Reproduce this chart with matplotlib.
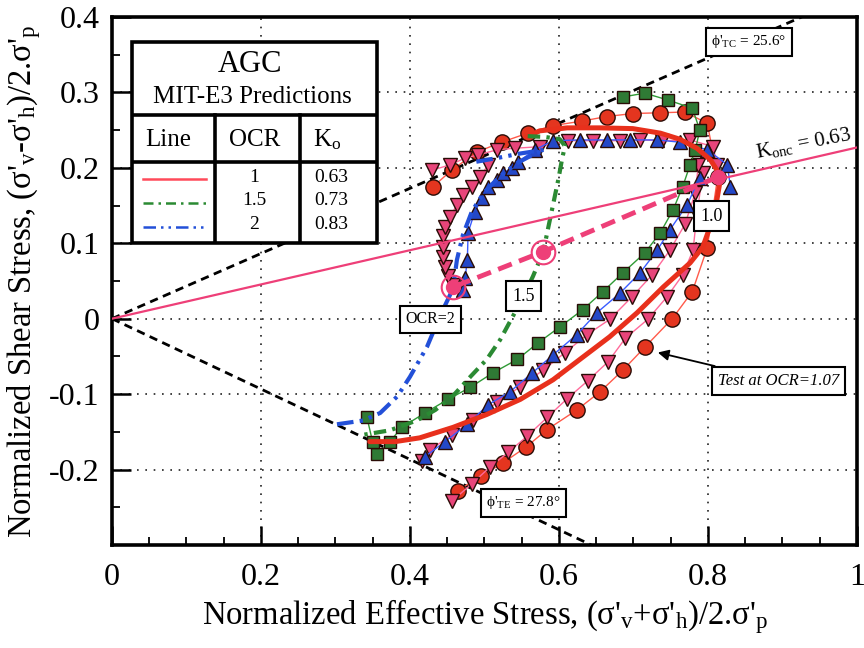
import numpy as np
import matplotlib
matplotlib.use("Agg")
import matplotlib.pyplot as plt
from matplotlib.ticker import MultipleLocator, FuncFormatter
from matplotlib.patches import Rectangle

plt.rcParams["font.family"] = ["Liberation Serif", "DejaVu Serif"]
plt.rcParams["mathtext.fontset"] = "custom"
plt.rcParams["mathtext.rm"] = "Liberation Serif"
plt.rcParams["mathtext.it"] = "Liberation Serif:italic"

# reference lines
k_onc = 0.63
phi_tc = 25.6
phi_te = 27.8

# test data (symbols)
circ_x = [0.431, 0.456, 0.490, 0.523, 0.558, 0.592, 0.631, 0.664, 0.699, 0.736, 0.769, 0.799, 0.813,
          0.799, 0.779, 0.752, 0.715, 0.686, 0.655, 0.624, 0.584, 0.556, 0.525, 0.495, 0.464]
circ_y = [0.175, 0.197, 0.221, 0.234, 0.246, 0.256, 0.262, 0.268, 0.272, 0.273, 0.274, 0.259, 0.188,
          0.094, 0.036, 0.000, -0.038, -0.068, -0.097, -0.121, -0.147, -0.170, -0.191, -0.209, -0.228]

pink_tc1_x = [0.812, 0.807, 0.776, 0.738, 0.709, 0.682, 0.646, 0.612, 0.574, 0.541, 0.517, 0.491, 0.474, 0.454, 0.430]
pink_tc1_y = [0.204, 0.228, 0.237, 0.236, 0.237, 0.236, 0.236, 0.236, 0.228, 0.226, 0.224, 0.217, 0.213, 0.204, 0.197]
pink_tc2_x = [0.458, 0.451, 0.447, 0.444, 0.444, 0.444, 0.447, 0.454, 0.463, 0.471, 0.483, 0.494, 0.505]
pink_tc2_y = [0.045, 0.056, 0.069, 0.082, 0.095, 0.109, 0.122, 0.135, 0.151, 0.164, 0.175, 0.188, 0.204]
pink_te1_x = [0.793, 0.785, 0.780, 0.766, 0.745, 0.719, 0.689, 0.666, 0.639, 0.611, 0.584, 0.557, 0.532, 0.507, 0.483, 0.456]
pink_te1_y = [0.193, 0.138, 0.091, 0.058, 0.029, -0.001, -0.026, -0.057, -0.082, -0.106, -0.131, -0.156, -0.177, -0.197, -0.219, -0.242]
pink_te2_x = [0.787, 0.783, 0.769, 0.749, 0.725, 0.698, 0.668, 0.638, 0.608, 0.579, 0.548, 0.517, 0.485, 0.456, 0.427, 0.416]
pink_te2_y = [0.204, 0.167, 0.125, 0.091, 0.058, 0.029, -0.001, -0.021, -0.045, -0.068, -0.090, -0.111, -0.134, -0.154, -0.174, -0.189]

blue_tc_x = [0.471, 0.474, 0.477, 0.478, 0.487, 0.497, 0.505, 0.517, 0.525, 0.537, 0.545, 0.568, 0.592, 0.628,
             0.664, 0.695, 0.732, 0.762, 0.799, 0.826, 0.830]
blue_tc_y = [0.038, 0.054, 0.078, 0.114, 0.142, 0.160, 0.175, 0.184, 0.193, 0.200, 0.208, 0.224, 0.236, 0.237,
             0.237, 0.237, 0.237, 0.234, 0.224, 0.204, 0.175]
blue_te_x = [0.789, 0.772, 0.749, 0.732, 0.709, 0.682, 0.651, 0.624, 0.592, 0.564, 0.534, 0.505, 0.477, 0.447, 0.420]
blue_te_y = [0.187, 0.151, 0.118, 0.091, 0.061, 0.034, 0.008, -0.021, -0.048, -0.072, -0.097, -0.114, -0.140, -0.163, -0.183]

green_x = [0.686, 0.715, 0.746, 0.779, 0.789, 0.783, 0.776, 0.766, 0.753, 0.736, 0.715, 0.686, 0.659, 0.632,
           0.601, 0.572, 0.544, 0.511, 0.481, 0.451, 0.420, 0.389, 0.373, 0.356, 0.350, 0.342]
green_y = [0.294, 0.299, 0.290, 0.279, 0.250, 0.224, 0.204, 0.175, 0.144, 0.114, 0.087, 0.061, 0.036, 0.012,
           -0.011, -0.032, -0.054, -0.072, -0.091, -0.107, -0.125, -0.144, -0.163, -0.180, -0.164, -0.130]

# MIT-E3 predictions
red_pred_x = [0.557, 0.574, 0.611, 0.655, 0.699, 0.736, 0.762, 0.785, 0.803, 0.812, 0.816, 0.812, 0.805, 0.793,
              0.776, 0.740, 0.705, 0.668, 0.628, 0.592, 0.548, 0.503, 0.458, 0.413, 0.380, 0.346]
red_pred_y = [0.241, 0.249, 0.253, 0.253, 0.252, 0.246, 0.238, 0.226, 0.211, 0.197, 0.181, 0.158, 0.128, 0.095,
              0.074, 0.042, 0.008, -0.024, -0.054, -0.081, -0.107, -0.127, -0.144, -0.158, -0.163, -0.163]
green_pred_x = [0.558, 0.581, 0.601, 0.608, 0.604, 0.599, 0.592, 0.585, 0.579, 0.565, 0.550, 0.538, 0.521,
                0.503, 0.481, 0.458, 0.434, 0.409, 0.373, 0.337]
green_pred_y = [0.242, 0.241, 0.238, 0.229, 0.211, 0.184, 0.151, 0.118, 0.089, 0.056, 0.025, 0.003, -0.028,
                -0.054, -0.077, -0.102, -0.121, -0.135, -0.148, -0.154]
blue_pred_x = [0.302, 0.337, 0.360, 0.383, 0.400, 0.423, 0.440, 0.454, 0.458, 0.463, 0.471, 0.483, 0.499,
               0.521, 0.545, 0.568, 0.581, 0.548, 0.517, 0.483]
blue_pred_y = [-0.140, -0.135, -0.125, -0.103, -0.077, -0.037, 0.003, 0.032, 0.042, 0.078, 0.111, 0.142, 0.167,
               0.189, 0.207, 0.219, 0.224, 0.219, 0.213, 0.207]

# K0 swelling path and start points (OCR = 1, 1.5, 2)
swell_x = [0.813, 0.579, 0.458]
swell_y = [0.188, 0.089, 0.042]

ocr_vals = ["1", "1.5", "2"]
k0_vals = ["0.63", "0.73", "0.83"]

RED = "#e8301c"
PINK = "#ee3f78"
BLUE = "#2350d8"
GREEN = "#2b8a33"

fig = plt.figure(figsize=(8.64, 6.48), dpi=100)
ax = fig.add_axes([0.1296, 0.1590, 0.8623, 0.8148])
ax.set_xlim(0, 1)
ax.set_ylim(-0.3, 0.4)

# strength and K0 lines
xs = np.array([0.0, 1.0])
ax.plot(xs, np.sin(np.radians(phi_tc)) * xs, color="black", lw=2, dashes=(3, 2), zorder=2)
ax.plot(xs, -np.sin(np.radians(phi_te)) * xs, color="black", lw=2, dashes=(3, 2), zorder=2)
ax.plot(xs, (1 - k_onc) / (1 + k_onc) * xs, color=PINK, lw=1.6, zorder=4.5)

# test data
mk = dict(markeredgecolor="#2a0c06", markeredgewidth=1.0, zorder=3)
ax.plot(circ_x, circ_y, "-o", color="#ff5a4a", lw=1, markerfacecolor="#e4351f", markersize=11, **mk)
for px, py in [(pink_tc1_x, pink_tc1_y), (pink_tc2_x, pink_tc2_y), (pink_te1_x, pink_te1_y), (pink_te2_x, pink_te2_y)]:
    ax.plot(px, py, "-v", color="#ff6a9a", lw=1, markerfacecolor="#e8457a", markersize=10.5, **mk)
for bx, by in [(blue_tc_x, blue_tc_y), (blue_te_x, blue_te_y)]:
    ax.plot(bx, by, "-^", color="#3a5cff", lw=1, markerfacecolor="#2448c8", markersize=10.5, **mk)
ax.plot(green_x, green_y, "-s", color="#2f9a35", lw=1, markerfacecolor="#2f7a35", markersize=9, **mk)

# predictions
ax.plot(red_pred_x, red_pred_y, color=RED, lw=3.6, zorder=4, solid_capstyle="round")
ax.plot(green_pred_x, green_pred_y, color=GREEN, lw=3, dashes=(3, 1.5, 0.8, 1.5), zorder=4)
ax.plot(blue_pred_x, blue_pred_y, color=BLUE, lw=3, dashes=(4, 1.5, 0.8, 1.5, 0.8, 1.5), zorder=4)
ax.plot(swell_x, swell_y, color=PINK, lw=3.5, dashes=(3, 1.6), zorder=4)
ax.plot(swell_x, swell_y, "o", color=PINK, markersize=10, zorder=5)
ax.plot(swell_x[1:], swell_y[1:], "o", markerfacecolor="none", markeredgecolor=PINK,
        markeredgewidth=1.5, markersize=17, zorder=5)

# grid and axes styling
ax.set_xticks([0, 0.2, 0.4, 0.6, 0.8, 1.0])
ax.set_yticks([-0.2, -0.1, 0, 0.1, 0.2, 0.3, 0.4])
ax.xaxis.set_minor_locator(MultipleLocator(0.05))
ax.yaxis.set_minor_locator(MultipleLocator(0.05))
fmt = FuncFormatter(lambda v, p: "%g" % round(v, 2))
ax.xaxis.set_major_formatter(fmt)
ax.yaxis.set_major_formatter(fmt)
ax.grid(True, which="major", linestyle=(0, (1, 4)), color="#222222", lw=1.2, zorder=0.5)
ax.tick_params(which="major", direction="in", length=14, width=1.8, labelsize=23)
ax.tick_params(which="minor", direction="in", length=6, width=1.3)
ax.tick_params(axis="x", pad=13)
ax.tick_params(axis="y", pad=9)
ax.tick_params(top=False, right=False, which="both")
for s in ax.spines.values():
    s.set_linewidth(2.6)

fig.text(485 / 864, 1 - 624 / 648,
         r"Normalized Effective Stress, (σ'$_\mathregular{v}$+σ'$_\mathregular{h}$)/2.σ'$_\mathregular{p}$",
         ha="center", va="baseline", fontsize=23.5)
fig.text(24 / 864, 1 - 281 / 648,
         r"Normalized Shear Stress, (σ'$_\mathregular{v}$-σ'$_\mathregular{h}$)/2.σ'$_\mathregular{p}$",
         rotation=90, ha="center", va="center", fontsize=23.5)

# annotation boxes
box = dict(boxstyle="square,pad=0.35", fc="white", ec="black", lw=1.5)
ax.text(0.855, 0.367, r"ϕ'$_\mathregular{TC}$ = 25.6°", ha="center", va="center", fontsize=11, bbox=box, zorder=7)
ax.text(0.552, -0.244, r"ϕ'$_\mathregular{TE}$ = 27.8°", ha="center", va="center", fontsize=11, bbox=box, zorder=7)
ax.text(0.805, 0.136, "1.0", ha="center", va="center", fontsize=13, bbox=box, zorder=7)
ax.text(0.552, 0.030, "1.5", ha="center", va="center", fontsize=13, bbox=box, zorder=7)
ax.text(0.427, -0.001, "OCR=2", ha="center", va="center", fontsize=11.5, bbox=box, zorder=7)
ax.annotate("Test at OCR=1.07", xy=(0.729, -0.044), xytext=(0.895, -0.083), ha="center", va="center",
            fontsize=12, fontstyle="italic", bbox=box, zorder=7,
            arrowprops=dict(arrowstyle="-|>", color="black", lw=1.3, mutation_scale=16))
ax.text(0.866, 0.213, r"K$_\mathregular{onc}$ = 0.63", ha="left", va="baseline", fontsize=15,
        rotation=11, rotation_mode="anchor", zorder=7)

# legend table
tab = fig.add_axes([0.1528, 0.625, 0.2836, 0.3102])
tab.set_xlim(0, 1)
tab.set_ylim(0, 1)
tab.axis("off")
tab.add_patch(Rectangle((0, 0), 1, 1, fc="white", ec="black", lw=2.6, clip_on=False))
tab.plot([0, 1], [0.637, 0.637], color="black", lw=2.6)
tab.plot([0, 1], [0.403, 0.403], color="black", lw=2.6)
tab.plot([0.339, 0.339], [0, 0.637], color="black", lw=2.6)
tab.plot([0.686, 0.686], [0, 0.637], color="black", lw=2.6)
tab.text(0.482, 0.886, "AGC", ha="center", va="center", fontsize=22)
tab.text(0.49, 0.726, "MIT-E3 Predictions", ha="center", va="center", fontsize=18)
tab.text(0.147, 0.512, "Line", ha="center", va="center", fontsize=18)
tab.text(0.502, 0.512, "OCR", ha="center", va="center", fontsize=18)
tab.text(0.796, 0.512, r"K$_\mathregular{o}$", ha="center", va="center", fontsize=18)
row_y = [0.318, 0.199, 0.080]
tab.plot([0.045, 0.302], [row_y[0]] * 2, color="#ff4a5a", lw=1.8)
tab.plot([0.045, 0.302], [row_y[1]] * 2, color=GREEN, lw=1.8, dashes=(4, 2, 1, 2))
tab.plot([0.045, 0.302], [row_y[2]] * 2, color=BLUE, lw=1.8, dashes=(5, 2, 1, 2, 1, 2))
for i in range(3):
    tab.text(0.5, row_y[i] + 0.01, ocr_vals[i], ha="center", va="center", fontsize=14)
    tab.text(0.812, row_y[i] + 0.01, k0_vals[i], ha="center", va="center", fontsize=14)

fig.savefig("out.png", dpi=100)
